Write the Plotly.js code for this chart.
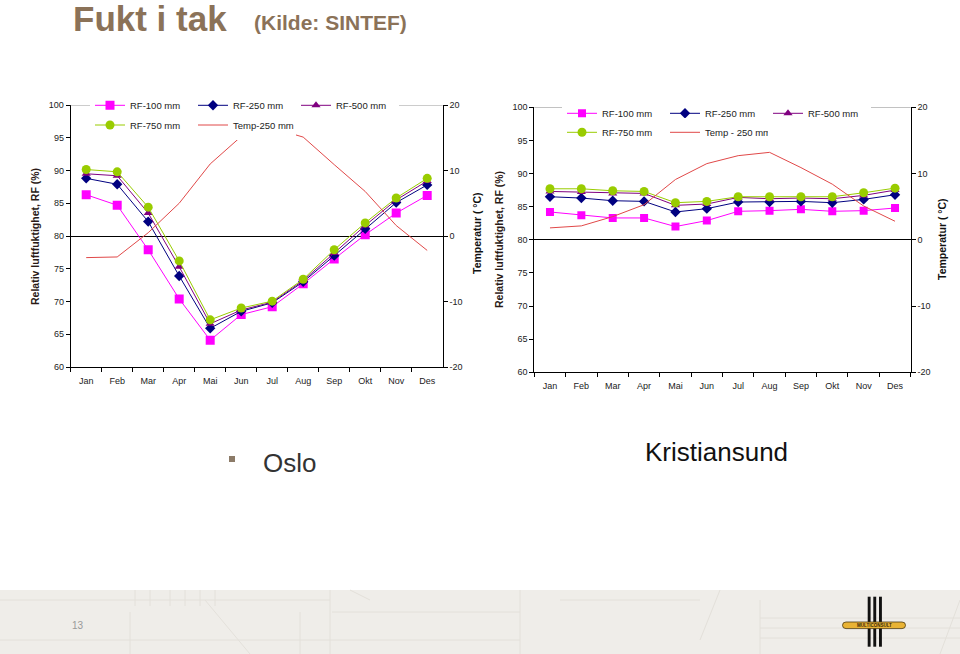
<!DOCTYPE html>
<html>
<head>
<meta charset="utf-8">
<script src="https://cdn.plot.ly/plotly-3.0.1.min.js"></script>
<style>
  html, body { margin: 0; padding: 0; background: #ffffff; }
  #chart { width: 960px; height: 654px; }
</style>
</head>
<body>
<div id="chart"></div>
<script>
// ---- Data ----
const months = ['Jan','Feb','Mar','Apr','Mai','Jun','Jul','Aug','Sep','Okt','Nov','Des'];

// Oslo
const osloRF100 = [86.3, 84.7, 77.9, 70.4, 64.1, 68.0, 69.2, 72.7, 76.5, 80.2, 83.5, 86.2];
const osloRF250 = [88.8, 87.9, 82.2, 73.9, 65.9, 68.5, 69.8, 73.0, 77.0, 81.1, 85.1, 87.8];
const osloRF500 = [89.5, 89.2, 83.5, 75.3, 66.6, 68.7, 69.9, 73.2, 77.4, 81.6, 85.5, 88.4];
const osloRF750 = [90.15, 89.8, 84.4, 76.2, 67.2, 69.0, 70.05, 73.4, 77.9, 82.0, 85.8, 88.8];
const osloTemp  = [-3.3, -3.2, 0.5, 5.0, 11.0, 15.2, 16.5, 15.1, 10.9, 6.8, 1.6, -2.2];

// Kristiansund
const kristRF100 = [84.2, 83.7, 83.3, 83.3, 82.0, 82.9, 84.3, 84.4, 84.6, 84.3, 84.4, 84.8];
const kristRF250 = [86.5, 86.3, 85.9, 85.8, 84.2, 84.7, 85.7, 85.7, 85.8, 85.6, 86.1, 86.8];
const kristRF500 = [87.3, 87.2, 87.0, 87.0, 85.2, 85.4, 86.4, 86.2, 86.3, 86.2, 86.7, 87.5];
const kristRF750 = [87.7, 87.7, 87.4, 87.3, 85.6, 85.8, 86.5, 86.5, 86.5, 86.5, 87.1, 87.8];
const kristTemp  = [1.8, 2.1, 3.5, 5.3, 9.1, 11.5, 12.7, 13.2, 10.9, 8.4, 5.1, 2.8];

const rfTicks = [60, 65, 70, 75, 80, 85, 90, 95, 100];
const tempTicks = [-20, -10, 0, 10, 20];
const tempTickText = ['-20', '-10', '0', '10', '20'];

// ---- helpers (pixel -> paper) ----
const W = 960, H = 654;
const px = x => x / W;
const py = y => 1 - y / H;

const FONT = 'Arial, "Liberation Sans", sans-serif';
const C100 = '#FF00FF', C250 = '#000080', C500 = '#800080', C750 = '#99CC00', CT = '#E04848';

function rf(name, x, y, ya, col, sym, size, leg) {
  return {
    type: 'scatter', mode: 'lines+markers', name: name,
    x: x, y: y, xaxis: ya.x, yaxis: ya.y, legend: leg,
    line: {color: col, width: 1},
    marker: {color: col, symbol: sym, size: size, line: {width: 0}},
    hoverinfo: 'skip'
  };
}

const traces = [
  rf('RF-100 mm', months, osloRF100, {x:'x', y:'y'}, C100, 'square', 9, 'legend'),
  rf('RF-250 mm', months, osloRF250, {x:'x', y:'y'}, C250, 'diamond', 8, 'legend'),
  rf('RF-500 mm', months, osloRF500, {x:'x', y:'y'}, C500, 'triangle-up', 8, 'legend'),
  rf('RF-750 mm', months, osloRF750, {x:'x', y:'y'}, C750, 'circle', 9, 'legend2'),
  {type:'scatter', mode:'lines', name:'Temp-250 mm', x: months, y: osloTemp,
   xaxis:'x', yaxis:'y2', legend:'legend2', line:{color: CT, width: 1}, hoverinfo:'skip'},

  rf('RF-100 mm', months, kristRF100, {x:'x2', y:'y3'}, C100, 'square', 8, 'legend3'),
  rf('RF-250 mm', months, kristRF250, {x:'x2', y:'y3'}, C250, 'diamond', 8, 'legend3'),
  rf('RF-500 mm', months, kristRF500, {x:'x2', y:'y3'}, C500, 'triangle-up', 8, 'legend3'),
  rf('RF-750 mm', months, kristRF750, {x:'x2', y:'y3'}, C750, 'circle', 9, 'legend4'),
  {type:'scatter', mode:'lines', name:'Temp - 250 mm', x: months, y: kristTemp,
   xaxis:'x2', yaxis:'y4', legend:'legend4', line:{color: CT, width: 1}, hoverinfo:'skip'}
];

const tickFont = {family: FONT, size: 9, color: '#222'};

function xAx(domain, anchor) {
  return {
    domain: domain, anchor: anchor, type: 'category', range: [-0.5, 11.5],
    categoryarray: months, categoryorder: 'array',
    tickson: 'boundaries', ticks: 'outside', ticklen: 4, tickcolor: '#000',
    ticklabelstandoff: 5,
    showline: true, linecolor: '#000', linewidth: 1, showgrid: false, zeroline: false,
    tickfont: tickFont, fixedrange: true
  };
}
function yLeft(domain, anchor) {
  return {
    domain: domain, anchor: anchor, range: [60, 100], tickvals: rfTicks,
    ticks: 'outside', ticklen: 4, tickcolor: '#000',
    showline: true, linecolor: '#000', linewidth: 1, showgrid: false, zeroline: false,
    tickfont: tickFont, fixedrange: true
  };
}
function yRight(over, anchor) {
  return {
    overlaying: over, anchor: anchor, side: 'right', range: [-20, 20],
    tickvals: tempTicks, ticktext: tempTickText,
    ticks: 'outside', ticklen: 4, tickcolor: '#000',
    showline: true, linecolor: '#000', linewidth: 1, showgrid: false,
    zeroline: true, zerolinecolor: '#000', zerolinewidth: 1,
    tickfont: tickFont, fixedrange: true
  };
}

function leg(x, y) {
  return {
    x: px(x), xanchor: 'left', y: py(y), yanchor: 'middle',
    orientation: 'h', bgcolor: '#ffffff', borderwidth: 0,
    font: {family: FONT, size: 9.5, color: '#222'},
    entrywidth: 58, entrywidthmode: 'pixels', itemwidth: 30, tracegroupgap: 0,
    itemclick: false, itemdoubleclick: false
  };
}

const axTitleFont = {family: FONT, size: 10.5, color: '#2a1a16'};
function ann(text, x, y, font, extra) {
  return Object.assign({text: text, xref: 'paper', yref: 'paper', x: px(x), y: py(y),
    showarrow: false, xanchor: 'center', yanchor: 'middle', font: font}, extra || {});
}

const brown = '#8B7258';

const annotations = [
  ann('<b>Fukt i tak</b>', 71, 18.5, {family: FONT, size: 35, color: brown}, {xanchor: 'left'}),
  ann('<b>(Kilde: SINTEF)</b>', 252, 22.5, {family: FONT, size: 21, color: brown}, {xanchor: 'left'}),
  ann('Oslo', 261, 463, {family: FONT, size: 26, color: '#333'}, {xanchor: 'left'}),
  ann('Kristiansund', 643, 452, {family: FONT, size: 26, color: '#111'}, {xanchor: 'left'}),
  ann('<b>Relativ luftfuktighet, RF (%)</b>', 35, 237, axTitleFont, {textangle: -90}),
  ann('<b>Temperatur ( °C)</b>', 477, 233, {family: FONT, size: 10.5, color: '#111'}, {textangle: -90}),
  ann('<b>Relativ luftfuktighet, RF (%)</b>', 499, 240, axTitleFont, {textangle: -90}),
  ann('<b>Temperatur ( °C)</b>', 942, 239, {family: FONT, size: 10.5, color: '#111'}, {textangle: -90}),
  ann('13', 77.5, 625.5, {family: FONT, size: 10, color: '#9a9a9a'}),
  ann('<b>MULTICONSULT</b>', 874, 625.3, {family: FONT, size: 4.5, color: '#3a2a08'})
];

function rectPx(x0, y0, x1, y1, fill, layer, lineCol, lw) {
  return {type: 'rect', xref: 'paper', yref: 'paper', x0: px(x0), x1: px(x1), y0: py(y1), y1: py(y0),
    fillcolor: fill, line: {width: lw || 0, color: lineCol || fill}, layer: layer || 'above'};
}
function linePx(x0, y0, x1, y1, col, w, layer) {
  return {type: 'line', xref: 'paper', yref: 'paper', x0: px(x0), x1: px(x1), y0: py(y0), y1: py(y1),
    line: {color: col, width: w}, layer: layer || 'below'};
}

const deco = '#E3E0DA';
const shapes = [
  // top border of plot areas (gray)
  {type:'line', xref:'x domain', yref:'y', x0:0, x1:1, y0:100, y1:100, line:{color:'#9a9a9a', width:1}, layer:'above'},
  {type:'line', xref:'x2 domain', yref:'y3', x0:0, x1:1, y0:100, y1:100, line:{color:'#9a9a9a', width:1}, layer:'above'},
  // footer band
  rectPx(0, 590, 960, 654, '#EFEDE9', 'below'),
  linePx(0, 600, 330, 600, deco, 1),
  linePx(0, 640, 520, 640, deco, 1),
  linePx(130, 612, 130, 654, deco, 1),
  linePx(135, 590, 135, 606, deco, 1),
  linePx(150, 590, 150, 606, deco, 1),
  linePx(170, 590, 170, 606, deco, 1),
  linePx(185, 590, 185, 606, deco, 1),
  linePx(200, 590, 200, 606, deco, 1),
  linePx(215, 590, 215, 606, deco, 1),
  linePx(330, 590, 330, 654, deco, 1),
  linePx(250, 654, 205, 600, deco, 1),
  linePx(300, 612, 300, 654, deco, 1),
  linePx(332, 612, 520, 612, deco, 1),
  linePx(520, 590, 520, 654, deco, 1),
  linePx(560, 600, 700, 600, deco, 1),
  linePx(350, 590, 370, 600, deco, 1),
  linePx(700, 640, 720, 590, deco, 1),
  linePx(760, 600, 760, 654, deco, 1),
  linePx(760, 618, 960, 618, deco, 1),
  linePx(760, 628, 960, 628, deco, 1),
  linePx(760, 638, 960, 638, deco, 1),
  linePx(940, 654, 960, 600, deco, 1),
  // bullet
  rectPx(229, 456, 235, 462, '#8C7B68', 'above'),
  // logo bars
  rectPx(867.7, 596.7, 870.6, 646.7, '#111111', 'above'),
  rectPx(873.3, 596.7, 876.2, 646.7, '#111111', 'above'),
  rectPx(879.0, 596.7, 881.9, 646.7, '#111111', 'above'),
  // logo plate
  {type:'path', xref:'paper', yref:'paper', layer:'above',
   path: 'M ' + px(846) + ',' + py(622) + ' L ' + px(902) + ',' + py(622) +
         ' Q ' + px(905.5) + ',' + py(622) + ' ' + px(905.5) + ',' + py(625.3) +
         ' Q ' + px(905.5) + ',' + py(628.6) + ' ' + px(902) + ',' + py(628.6) +
         ' L ' + px(846) + ',' + py(628.6) +
         ' Q ' + px(842.5) + ',' + py(628.6) + ' ' + px(842.5) + ',' + py(625.3) +
         ' Q ' + px(842.5) + ',' + py(622) + ' ' + px(846) + ',' + py(622) + ' Z',
   fillcolor: '#E9B334', line: {color: '#4a3810', width: 0.8}}
];

const layout = {
  width: W, height: H,
  margin: {l: 0, r: 0, t: 0, b: 0},
  paper_bgcolor: '#ffffff', plot_bgcolor: 'rgba(0,0,0,0)',
  font: {family: FONT},
  showlegend: true,
  xaxis: xAx([px(70.7), px(442.7)], 'y'),
  yaxis: yLeft([py(367), py(105)], 'x'),
  yaxis2: yRight('y', 'x'),
  xaxis2: xAx([px(534.3), px(910.7)], 'y3'),
  yaxis3: yLeft([py(372.3), py(107.3)], 'x2'),
  yaxis4: yRight('y3', 'x2'),
  legend: leg(90, 105.3),
  legend2: leg(90, 125),
  legend3: leg(562, 113.3),
  legend4: leg(562, 132.3),
  annotations: annotations,
  shapes: shapes
};

Plotly.newPlot('chart', traces, layout, {displayModeBar: false, staticPlot: true});
</script>
</body>
</html>
